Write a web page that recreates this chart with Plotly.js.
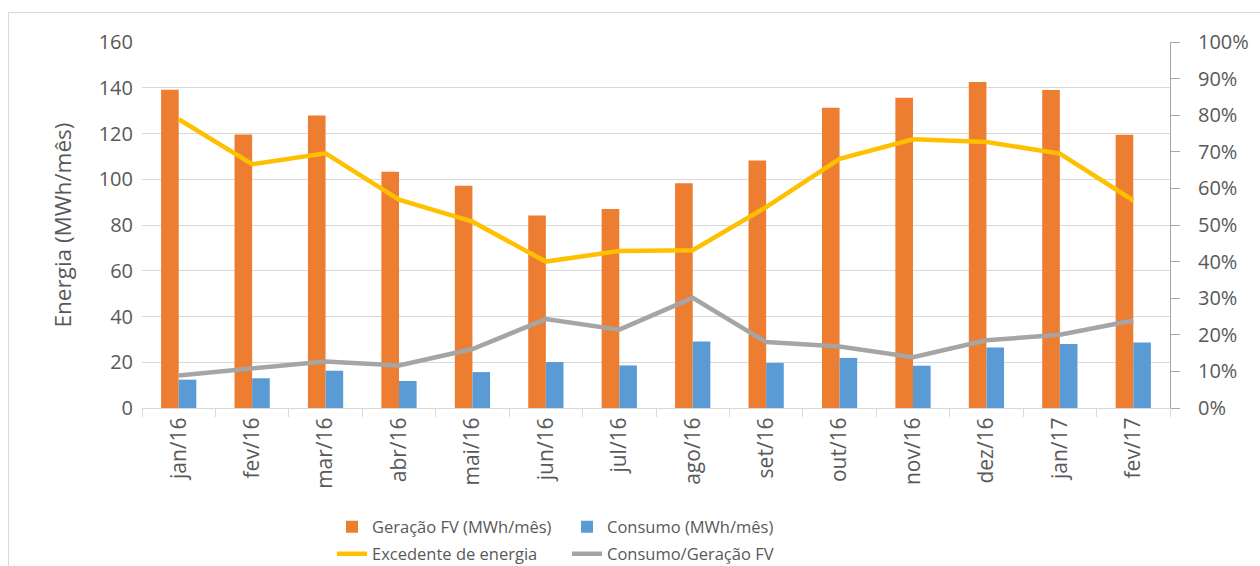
<!DOCTYPE html>
<html>
<head>
<meta charset="utf-8">
<script src="https://cdn.plot.ly/plotly-3.0.1.min.js"></script>
<style>
  html, body { margin: 0; padding: 0; background: #ffffff; overflow: hidden; }
  #frame { position: absolute; left: 8px; top: 12px; width: 1400px; height: 700px;
           border-left: 1px solid #d9d9d9; border-top: 1px solid #d9d9d9; }
  #chart { position: absolute; left: 0; top: 0; width: 1260px; height: 566px; }
</style>
</head>
<body>
<div id="frame"></div>
<div id="chart"></div>
<script>
const categories = ["jan/16","fev/16","mar/16","abr/16","mai/16","jun/16","jul/16",
                    "ago/16","set/16","out/16","nov/16","dez/16","jan/17","fev/17"];
const geracaoFV = [139.1, 119.6, 127.9, 103.3, 97.2, 84.2, 87.0, 98.2, 108.2, 131.3, 135.6, 142.5, 139.0, 119.5];
const consumo   = [12.4, 13.0, 16.3, 11.8, 15.7, 20.1, 18.6, 29.1, 19.7, 21.9, 18.5, 26.4, 28.0, 28.6];
const excedente = [0.789, 0.666, 0.696, 0.569, 0.509, 0.400, 0.429, 0.431, 0.549, 0.681, 0.734, 0.727, 0.695, 0.567];
const consumoGeracao = [0.089, 0.107, 0.127, 0.116, 0.161, 0.243, 0.214, 0.301, 0.180, 0.168, 0.139, 0.185, 0.200, 0.239];
const leftTicks = [0, 20, 40, 60, 80, 100, 120, 140, 160];
const rightTicks = [0, 0.1, 0.2, 0.3, 0.4, 0.5, 0.6, 0.7, 0.8, 0.9, 1.0];

const FONT = "Open Sans, Noto Sans, sans-serif";
const TXT = "#595959";

const traces = [
  { type: "bar", name: "Geração FV (MWh/mês)", x: categories, y: geracaoFV,
    marker: { color: "#ED7D31" }, legend: "legend", hoverinfo: "x+y" },
  { type: "bar", name: "Consumo (MWh/mês)", x: categories, y: consumo,
    marker: { color: "#5B9BD5" }, legend: "legend", hoverinfo: "x+y" },
  { type: "scatter", mode: "lines", name: "Excedente de energia", x: categories, y: excedente,
    yaxis: "y2", line: { color: "#FFC000", width: 4.5 }, legend: "legend2" },
  { type: "scatter", mode: "lines", name: "Consumo/Geração FV", x: categories, y: consumoGeracao,
    yaxis: "y2", line: { color: "#A5A5A5", width: 4.5 }, legend: "legend2" }
];

const legendCommon = {
  orientation: "h", xref: "container", yref: "container", xanchor: "left", yanchor: "middle",
  font: { family: FONT, size: 16.5, color: TXT }, bgcolor: "rgba(0,0,0,0)",
  entrywidthmode: "pixels", entrywidth: 190, itemwidth: 30, tracegroupgap: 0
};

const layout = {
  width: 1260, height: 566,
  paper_bgcolor: "rgba(0,0,0,0)", plot_bgcolor: "rgba(0,0,0,0)",
  margin: { l: 142, r: 90, t: 42, b: 158, pad: 0 },
  font: { family: FONT, color: TXT },
  barmode: "group", bargap: 0.52, bargroupgap: 0,
  showlegend: true,
  xaxis: {
    type: "category", tickangle: -90, tickson: "boundaries",
    ticks: "outside", ticklen: 8, tickcolor: "#d9d9d9", tickwidth: 1,
    showline: true, linecolor: "#d9d9d9", linewidth: 1,
    showgrid: false, zeroline: false,
    tickfont: { family: FONT, size: 21, color: TXT }, automargin: false
  },
  yaxis: {
    range: [0, 160], tickvals: leftTicks, ticktext: leftTicks.map(String),
    showgrid: true, gridcolor: "#d9d9d9", gridwidth: 1,
    zeroline: false, showline: false, ticks: "",
    ticklabelstandoff: 8,
    tickfont: { family: FONT, size: 20, color: TXT },
    title: { text: "Energia (MWh/mês)", font: { family: FONT, size: 22.5, color: TXT }, standoff: 20 },
    automargin: false
  },
  yaxis2: {
    overlaying: "y", side: "right", range: [0, 1],
    tickvals: rightTicks, tickformat: ".0%",
    showgrid: false, zeroline: false,
    showline: true, linecolor: "#a6a6a6", linewidth: 1,
    ticks: "outside", ticklen: 9, tickcolor: "#a6a6a6", tickwidth: 1,
    ticklabelstandoff: 14,
    tickfont: { family: FONT, size: 20, color: TXT }, automargin: false
  },
  legend: Object.assign({}, legendCommon, { x: 332 / 1260, y: 1 - 527 / 566 }),
  legend2: Object.assign({}, legendCommon, { x: 332 / 1260, y: 1 - 554 / 566 })
};

Plotly.newPlot("chart", traces, layout, { displayModeBar: false, staticPlot: true });
</script>
</body>
</html>
